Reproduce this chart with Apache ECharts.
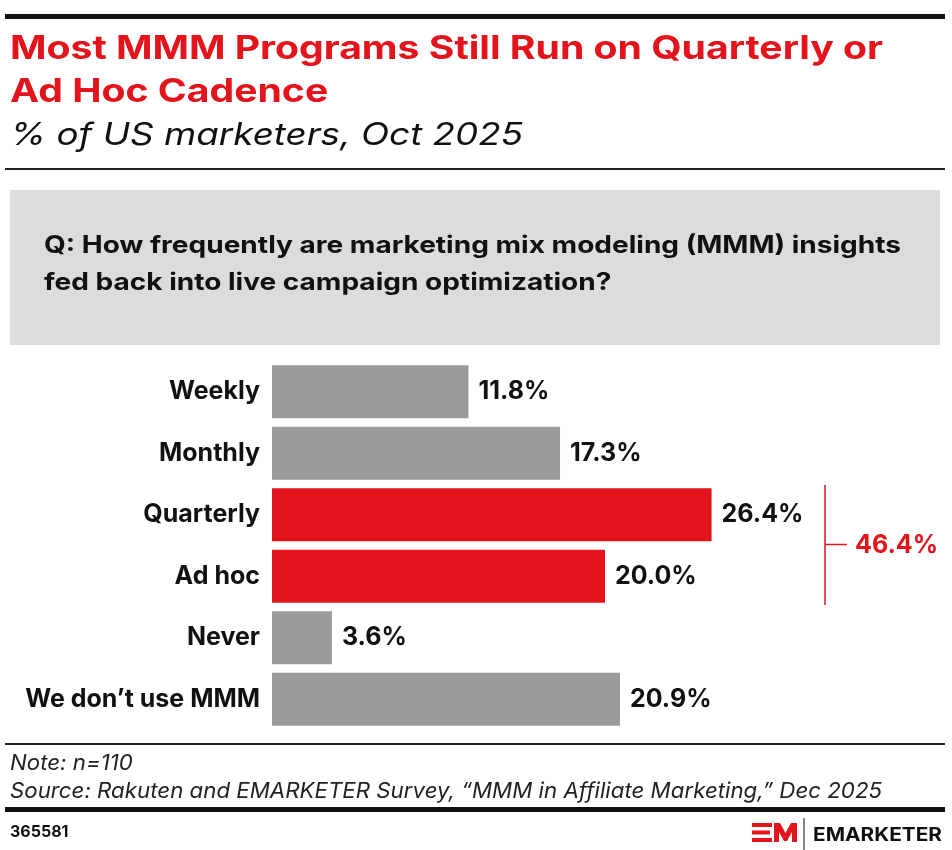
<!DOCTYPE html>
<html><head><meta charset="utf-8">
<script src="https://cdn.jsdelivr.net/npm/echarts@6/dist/echarts.min.js"></script>
<style>html,body{margin:0;padding:0;background:#fff}#c{width:952px;height:850px}</style>
</head><body><div id="c"></div>
<script>
const categories = ["Weekly", "Monthly", "Quarterly", "Ad hoc", "Never", "We don\u2019t use MMM"];
const values = [11.8, 17.3, 26.4, 20.0, 3.6, 20.9];
const highlighted = [false, false, true, true, false, false];
const bracketLabel = "46.4%";
const titleLines = ["Most MMM Programs Still Run on Quarterly or", "Ad Hoc Cadence"];
const subtitle = "% of US marketers, Oct 2025";
const question = ["Q: How frequently are marketing mix modeling (MMM) insights", "fed back into live campaign optimization?"];
const note = "Note: n=110";
const source = "Source: Rakuten and EMARKETER Survey, \u201cMMM in Affiliate Marketing,\u201d Dec 2025";
const chartId = "365581";

const RED = "#e3141c", GRAY = "#9b9b9b";
const FONT = "Inter";

const mctx = document.createElement('canvas').getContext('2d');
function fitScale(text, font, target) { mctx.font = font; return target / mctx.measureText(text).width; }

const chart = echarts.init(document.getElementById('c'), null, {renderer: 'canvas'});

const gridLeft = 272, gridTop = 361, gridH = 369;
chart.setOption({
  animation: false,
  backgroundColor: '#fff',
  grid: {left: gridLeft, top: gridTop, height: gridH, right: 14},
  xAxis: {type: 'value', min: 0, max: 40, show: false},
  yAxis: {
    type: 'category', data: categories, inverse: true,
    axisLine: {show: false}, axisTick: {show: false},
    axisLabel: {margin: 12, color: '#111', fontFamily: FONT, fontWeight: 700, fontSize: 25}
  },
  series: [{
    type: 'bar', barWidth: 53,
    data: values.map((v, i) => ({value: v, itemStyle: {color: highlighted[i] ? RED : GRAY}})),
    label: {show: true, position: 'right', distance: 10, color: '#111', fontFamily: FONT, fontWeight: 700, fontSize: 25,
      formatter: p => p.value.toFixed(1) + '%'}
  }]
});

const hi = highlighted.map((h, i) => h ? i : -1).filter(i => i >= 0);
const topPix = chart.convertToPixel({yAxisIndex: 0}, categories[hi[0]]);
const botPix = chart.convertToPixel({yAxisIndex: 0}, categories[hi[hi.length - 1]]);
const band = gridH / categories.length;
const bx = 825;
const y1 = topPix - band / 2 + 1, y2 = botPix + band / 2 - 2, ym = (topPix + botPix) / 2 - 1;

const fTitle = `700 32px ${FONT}`, fSub = `italic 400 31px ${FONT}`, fQ = `700 24px ${FONT}`, fNote = `italic 400 21px ${FONT}`;
const sTitle = fitScale(titleLines[0], fTitle, 873);
const sSub = fitScale(subtitle, fSub, 513);
const sQ = fitScale(question[0], fQ, 857);
const sNote = fitScale(source, fNote, 872);

function txt(x, y, text, font, fill, sx) {
  return {type: 'text', x: x, y: y, scaleX: sx || 1, style: {text: text, fill: fill, font: font, verticalAlign: 'middle'}};
}

const g = [
  {type: 'rect', shape: {x: 5, y: 14, width: 940, height: 5}, style: {fill: '#111'}},
  txt(10, 49, titleLines[0], fTitle, RED, sTitle),
  txt(10, 92, titleLines[1], fTitle, RED, sTitle),
  txt(10, 136, subtitle, fSub, '#111', sSub),
  {type: 'rect', shape: {x: 5, y: 168, width: 940, height: 2}, style: {fill: '#222'}},
  {type: 'rect', shape: {x: 10, y: 190, width: 930, height: 155}, style: {fill: '#dcdcdc'}},
  txt(44, 246, question[0], fQ, '#111', sQ),
  txt(44, 283, question[1], fQ, '#111', sQ),
  {type: 'line', shape: {x1: bx, y1: y1, x2: bx, y2: y2}, style: {stroke: RED, lineWidth: 1.5}},
  {type: 'line', shape: {x1: bx, y1: ym, x2: bx + 22, y2: ym}, style: {stroke: RED, lineWidth: 1.5}},
  txt(855, ym + 1, bracketLabel, `700 25px ${FONT}`, RED),
  {type: 'rect', shape: {x: 5, y: 743, width: 940, height: 2}, style: {fill: '#222'}},
  txt(10, 764, note, fNote, '#222', sNote),
  txt(10, 792, source, fNote, '#222', sNote),
  {type: 'rect', shape: {x: 5, y: 807, width: 940, height: 5}, style: {fill: '#111'}},
  txt(10, 832, chartId, `700 16px ${FONT}`, '#111'),
  // logo mark
  {type: 'rect', shape: {x: 752, y: 823, width: 20, height: 4}, style: {fill: RED}},
  {type: 'rect', shape: {x: 752, y: 830.5, width: 18, height: 4}, style: {fill: RED}},
  {type: 'rect', shape: {x: 752, y: 838, width: 20, height: 4}, style: {fill: RED}},
  {type: 'polygon', shape: {points: [[774, 823], [780, 823], [785.5, 833], [791, 823], [797, 823], [797, 842], [792, 842], [792, 832], [787, 841], [784, 841], [779, 832], [779, 842], [774, 842]]}, style: {fill: RED}},
  {type: 'line', shape: {x1: 804, y1: 818, x2: 804, y2: 850}, style: {stroke: '#111', lineWidth: 1}},
  txt(813, 835, 'EMARKETER', `700 19px ${FONT}`, '#111', fitScale('EMARKETER', `700 19px ${FONT}`, 129))
];
chart.setOption({graphic: g});
</script></body></html>
